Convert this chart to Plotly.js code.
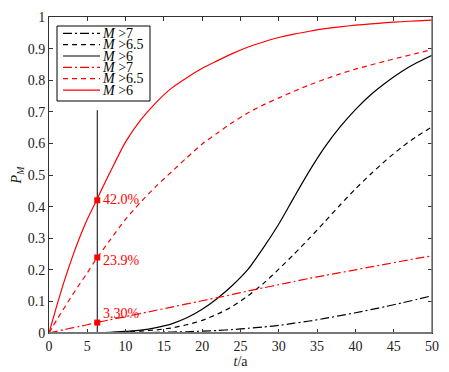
<!DOCTYPE html>
<html>
<head>
<meta charset="utf-8">
<script src="https://cdn.plot.ly/plotly-3.0.1.min.js"></script>
<style>html,body{margin:0;padding:0;background:#fff;}#chart{width:449px;height:372px;}</style>
</head>
<body>
<div id="chart"></div>
<script>
// ---- data ----
const years = [0,1,2,3,4,5,6,8,10,12,14,16,18,20,22,24,26,28,30,32,34,36,38,40,42,44,46,48,50];

const blackM7  = [0,0,0,0,0,0,0,0,0.001,0.001,0.002,0.003,0.004,0.006,0.008,0.011,0.015,0.019,0.024,0.031,0.038,0.046,0.055,0.064,0.074,0.084,0.095,0.106,0.118];
const blackM65 = [0,0,0,0,0,0,0.001,0.001,0.003,0.006,0.010,0.016,0.026,0.040,0.060,0.085,0.118,0.157,0.202,0.250,0.300,0.352,0.405,0.456,0.503,0.547,0.587,0.622,0.652];
const blackM6  = [0,0,0,0,0.001,0.001,0.001,0.002,0.005,0.009,0.017,0.029,0.048,0.075,0.110,0.152,0.202,0.270,0.345,0.430,0.513,0.588,0.652,0.707,0.754,0.793,0.827,0.855,0.879];
const redM7    = [0,0.005,0.011,0.016,0.021,0.026,0.032,0.042,0.052,0.062,0.072,0.082,0.092,0.102,0.112,0.122,0.133,0.143,0.153,0.163,0.173,0.182,0.191,0.200,0.209,0.218,0.227,0.236,0.244];
const redM65   = [0,0.041,0.080,0.118,0.155,0.190,0.228,0.295,0.360,0.415,0.465,0.510,0.555,0.598,0.633,0.667,0.697,0.722,0.744,0.765,0.785,0.803,0.820,0.835,0.848,0.861,0.873,0.885,0.897];
const redM6    = [0,0.085,0.165,0.237,0.302,0.360,0.410,0.510,0.605,0.675,0.730,0.775,0.808,0.838,0.862,0.885,0.905,0.921,0.935,0.946,0.955,0.963,0.969,0.974,0.978,0.982,0.985,0.988,0.990];

const seriesNames = ['<i>M</i> &gt;7', '<i>M</i> &gt;6.5', '<i>M</i> &gt;6', '<i>M</i> &gt;7', '<i>M</i> &gt;6.5', '<i>M</i> &gt;6'];

const markT = [6.3, 6.3, 6.3];
const markP = [0.420, 0.239, 0.033];
const markLabels = ['42.0%', '23.9%', '3.30%'];
const vlineT = [6.3, 6.3];
const vlineP = [0, 0.705];

const xTicks = [0,5,10,15,20,25,30,35,40,45,50];
const yTicks = [0,0.1,0.2,0.3,0.4,0.5,0.6,0.7,0.8,0.9,1];
const yTickText = ['0','0.1','0.2','0.3','0.4','0.5','0.6','0.7','0.8','0.9','1'];

// ---- styles ----
const FONT = 'Liberation Serif';
const DASHDOT = '9px,3px,2px,3px';
const DASH = '5px,4px';
const styles = [
  {color:'#000', dash:DASHDOT},
  {color:'#000', dash:DASH},
  {color:'#000', dash:'solid'},
  {color:'#ff0000', dash:DASHDOT},
  {color:'#ff0000', dash:DASH},
  {color:'#ff0000', dash:'solid'}
];
const seriesData = [blackM7, blackM65, blackM6, redM7, redM65, redM6];

const traces = seriesData.map((ys, i) => ({
  type:'scatter', mode:'lines', x:years, y:ys, name:seriesNames[i],
  line:{color:styles[i].color, dash:styles[i].dash, width:1.2, shape:'spline', smoothing:0.7},
  showlegend:false, hoverinfo:'skip'
}));
traces.push({type:'scatter', mode:'lines', x:vlineT, y:vlineP, line:{color:'#000', width:1},
  showlegend:false, hoverinfo:'skip'});
traces.push({type:'scatter', mode:'markers', x:markT, y:markP,
  marker:{symbol:'square', size:6, color:'#ff0000'}, showlegend:false, hoverinfo:'skip'});

// ---- hand-drawn legend (compact rows like the reference) ----
const L = 49, R = 432, T = 17, B = 333;
const px = v => (v - L) / (R - L);
const py = v => (B - v) / (B - T);
const shapes = [
  {type:'rect', xref:'paper', yref:'paper', x0:px(57), x1:px(150), y0:py(101), y1:py(26),
   line:{color:'#000', width:1}, fillcolor:'#fff', layer:'above'},
  {type:'line', xref:'paper', yref:'paper', x0:0, x1:1, y0:0, y1:0, line:{color:'#777', width:2}, layer:'above'},
  {type:'line', xref:'paper', yref:'paper', x0:1, x1:1, y0:0, y1:1, line:{color:'#777', width:1.5}, layer:'above'}
];
const annotations = [];
for (let i = 0; i < 6; i++) {
  const yy = 33.3 + 11.35 * i;
  shapes.push({type:'line', xref:'paper', yref:'paper', x0:px(63), x1:px(100), y0:py(yy), y1:py(yy),
    line:{color:styles[i].color, dash:styles[i].dash, width:1.2}, layer:'above'});
  annotations.push({xref:'paper', yref:'paper', x:px(101), y:py(yy), xanchor:'left', yanchor:'middle',
    height:11, borderpad:0, valign:'middle',
    text:seriesNames[i], showarrow:false, font:{family:FONT, size:14, color:'#000'}});
}
const labelShift = [1, -3, 9];
markLabels.forEach((s, i) => {
  annotations.push({x:markT[i], y:markP[i], xref:'x', yref:'y', xanchor:'left', yanchor:'middle',
    text:s, showarrow:false, xshift:4, yshift:labelShift[i], font:{family:FONT, size:14, color:'#ff0000'}});
});

const axisCommon = {
  showline:true, linecolor:'#333', linewidth:1, mirror:'ticks',
  ticks:'inside', ticklen:4, tickcolor:'#333', tickwidth:1,
  showgrid:false, zeroline:false,
  tickfont:{family:FONT, size:14, color:'#222'}
};

const layout = {
  width:449, height:372,
  margin:{l:49, r:17, t:17, b:39},
  paper_bgcolor:'#fff', plot_bgcolor:'#fff',
  font:{family:FONT, size:14, color:'#222'},
  showlegend:false,
  xaxis:Object.assign({}, axisCommon, {range:[0,50], tickvals:xTicks, ticktext:xTicks.map(String),
    title:{text:'<i>t</i>/a', font:{family:FONT, size:14, color:'#222'}, standoff:2}}),
  yaxis:Object.assign({}, axisCommon, {range:[0,1], tickvals:yTicks, ticktext:yTickText,
    title:{text:'<i>P</i><sub><i>M</i></sub>', font:{family:FONT, size:14, color:'#222'}, standoff:2}}),
  shapes:shapes,
  annotations:annotations
};

Plotly.newPlot('chart', traces, layout, {displayModeBar:false, staticPlot:true});
</script>
</body>
</html>
